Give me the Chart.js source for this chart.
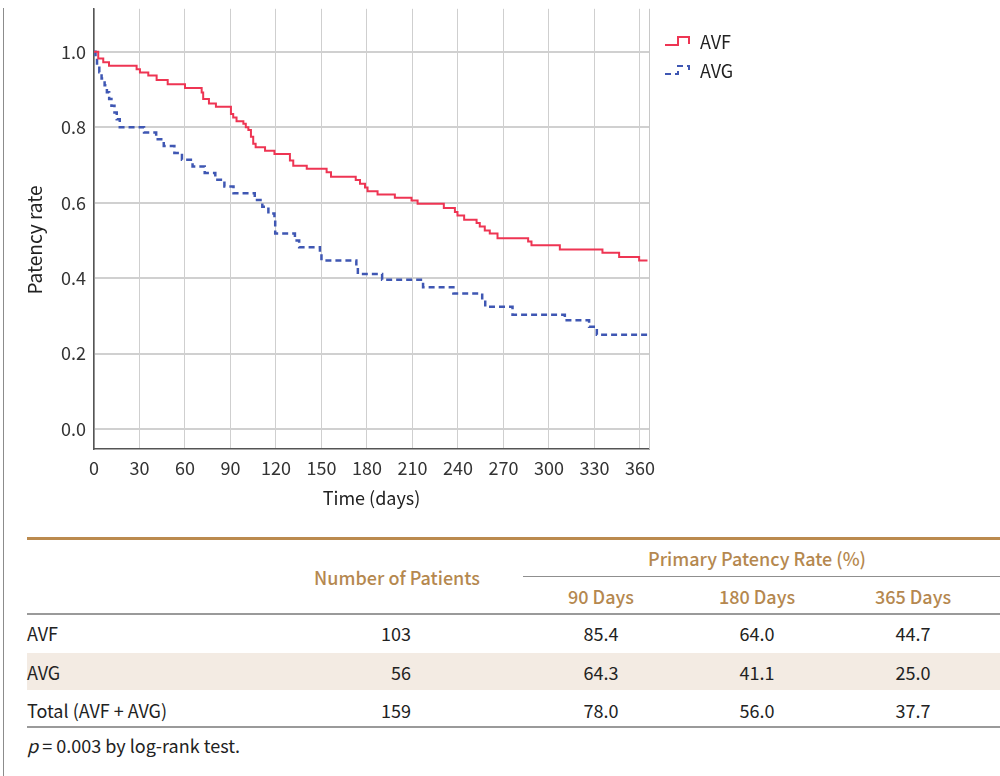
<!DOCTYPE html>
<html>
<head>
<meta charset="utf-8">
<script src="https://cdn.jsdelivr.net/npm/chart.js@4.4.0/dist/chart.umd.min.js"></script>
<style>
  body { margin: 0; background: #fff; font-family: "Noto Sans CJK KR", "Noto Sans", sans-serif; color: #222; }
  #wrap { position: relative; width: 1000px; height: 776px; overflow: hidden; }
  #frame { position: absolute; left: 3px; top: 8px; width: 10px; height: 800px; border-left: 1px solid #8c8c8c; }
  #chartBox { position: absolute; left: 0; top: -10px; width: 1000px; height: 530px; }
  .t { position: absolute; font-size: 18px; white-space: nowrap; line-height: 1; }
  .c { transform: translate(-50%, -50%); }
  .l { transform: translate(0, -50%); }
  .r { transform: translate(-100%, -50%); }
  .hd { color: #b5884f; font-weight: 500; }
  .rule { position: absolute; }
</style>
</head>
<body>
<div id="wrap">
  <div id="frame"></div>
  <div id="chartBox"><canvas id="kmChart"></canvas></div>
  <div id="table"></div>
</div>
<script>
// Kaplan-Meier steps: day of each drop and the rate after it
const avfDays = [0, 2.8, 6.1, 9.9, 28.1, 30.3, 35.8, 41.3, 48.6, 60,
  71, 72, 75.8, 80.4, 90.3, 91.8, 94, 98.5, 100.1, 101.8,
  103.5, 105, 106.6, 112.8, 119, 129.2, 131.4, 140.3, 153.4, 156.3,
  172.6, 175.4, 178.7, 180.4, 187, 198.4, 209.4, 213.4, 230.7, 238,
  239.7, 244.1, 252.3, 254.4, 257.7, 261, 266.1, 286.3, 288.5, 307.2,
  335.3, 346.3, 359.5, 365];
const avfRate = [1, 0.982, 0.972, 0.963, 0.954, 0.945, 0.937, 0.925, 0.914, 0.904,
  0.892, 0.875, 0.863, 0.854, 0.835, 0.826, 0.816, 0.809, 0.800, 0.793,
  0.775, 0.756, 0.747, 0.738, 0.729, 0.712, 0.698, 0.690, 0.681, 0.669,
  0.660, 0.650, 0.640, 0.630, 0.622, 0.613, 0.606, 0.597, 0.586, 0.575,
  0.566, 0.555, 0.546, 0.537, 0.526, 0.518, 0.506, 0.497, 0.487, 0.476,
  0.467, 0.456, 0.447, 0.447];

const avgDays = [0, 1, 2, 3.5, 5, 7, 8.5, 10, 11.5, 13.5,
  15, 17, 33, 41, 46, 53, 58, 65, 73, 80,
  86, 92, 106, 111, 115, 119, 119.5, 132.5, 135.3, 149,
  150, 173, 174, 190, 217, 237, 256, 258, 276, 310.5,
  326.5, 331.6, 365];
const avgRate = [1, 0.982, 0.964, 0.946, 0.929, 0.911, 0.893, 0.875, 0.857, 0.839,
  0.821, 0.80, 0.786, 0.768, 0.750, 0.732, 0.714, 0.696, 0.679, 0.661,
  0.643, 0.625, 0.607, 0.589, 0.571, 0.554, 0.518, 0.500, 0.482, 0.465,
  0.447, 0.429, 0.411, 0.396, 0.376, 0.359, 0.341, 0.324, 0.303, 0.288,
  0.271, 0.250, 0.250];

const xTicks = [0, 30, 60, 90, 120, 150, 180, 210, 240, 270, 300, 330, 360];
const yTicks = [0, 0.2, 0.4, 0.6, 0.8, 1.0];

// table below the chart
const groups = ['AVF', 'AVG', 'Total (AVF + AVG)'];
const patients = ['103', '56', '159'];
const rate90 = ['85.4', '64.3', '78.0'];
const rate180 = ['64.0', '41.1', '56.0'];
const rate365 = ['44.7', '25.0', '37.7'];

const FONT = '"Noto Sans CJK KR", "Noto Sans", sans-serif';

function pts(days, rate) {
  return days.map((d, i) => ({ x: d, y: rate[i] }));
}

// step-shaped legend like the original figure, the y title and the right edge of the plot
const stepLegend = {
  id: 'stepLegend',
  afterDraw(chart) {
    const ctx = chart.ctx;
    const a = chart.chartArea;
    ctx.save();
    ctx.strokeStyle = '#c8c8c8';
    ctx.lineWidth = 1;
    ctx.beginPath();
    ctx.moveTo(a.right + 0.5, a.top);
    ctx.lineTo(a.right + 0.5, a.bottom);
    ctx.stroke();

    // y axis title, a little below the middle as in the original
    ctx.save();
    ctx.translate(35, 250);
    ctx.rotate(-Math.PI / 2);
    ctx.fillStyle = '#222';
    ctx.font = '19px ' + FONT;
    ctx.textAlign = 'center';
    ctx.textBaseline = 'middle';
    ctx.fillText('Patency rate', 0, 0);
    ctx.restore();

    const x0 = a.right + 16;
    chart.data.datasets.forEach((ds, i) => {
      const yc = 52 + i * 29;
      ctx.strokeStyle = ds.borderColor;
      ctx.lineWidth = 2;
      ctx.setLineDash(ds.borderDash || []);
      ctx.beginPath();
      ctx.moveTo(x0, yc + 3);
      ctx.lineTo(x0 + 13, yc + 3);
      ctx.lineTo(x0 + 13, yc - 5);
      ctx.lineTo(x0 + 24, yc - 5);
      ctx.lineTo(x0 + 24, yc + 2);
      ctx.stroke();
      ctx.setLineDash([]);
      ctx.fillStyle = '#222';
      ctx.font = '18px ' + FONT;
      ctx.textBaseline = 'middle';
      ctx.fillText(ds.label, x0 + 35, yc);
    });
    ctx.restore();
  }
};

const ctx = document.getElementById('kmChart').getContext('2d');
new Chart(ctx, {
  type: 'line',
  data: {
    datasets: [
      {
        label: 'AVF',
        data: pts(avfDays, avfRate),
        borderColor: '#ee3553',
        borderWidth: 2,
        stepped: true,
        pointRadius: 0,
        fill: false
      },
      {
        label: 'AVG',
        data: pts(avgDays, avgRate),
        borderColor: '#3f57b3',
        borderWidth: 2.5,
        borderDash: [6, 4],
        stepped: true,
        pointRadius: 0,
        fill: false
      }
    ]
  },
  options: {
    responsive: true,
    maintainAspectRatio: false,
    animation: false,
    layout: { padding: { top: 8, right: 351, left: 0, bottom: 0 } },
    plugins: { legend: { display: false }, tooltip: { enabled: false } },
    scales: {
      x: {
        type: 'linear',
        min: 0,
        max: 366,
        afterBuildTicks: s => { s.ticks = xTicks.map(v => ({ value: v })); },
        afterFit: s => { s.height = 71; },
        grid: { color: '#cfcfcf', lineWidth: 1, drawTicks: false },
        border: { color: '#555', width: 1.5 },
        ticks: { color: '#333', font: { family: FONT, size: 18 }, padding: 8, maxRotation: 0 },
        title: { display: true, text: 'Time (days)', color: '#222', font: { family: FONT, size: 18 }, padding: { top: 0, bottom: 11 } }
      },
      y: {
        min: -0.053,
        max: 1.114,
        afterBuildTicks: s => { s.ticks = yTicks.map(v => ({ value: v })); },
        afterFit: s => { s.width = 94; },
        grid: { color: '#d0d0d0', lineWidth: 2, drawTicks: false },
        border: { color: '#555', width: 1.5 },
        ticks: { color: '#333', font: { family: FONT, size: 18 }, padding: 8, callback: v => v.toFixed(1) }
      }
    }
  },
  plugins: [stepLegend]
});

// --- TABLE ---
const table = document.getElementById('table');
function txt(s, x, y, cls) {
  const d = document.createElement('div');
  d.className = 't ' + cls;
  d.style.left = x + 'px';
  d.style.top = y + 'px';
  d.innerHTML = s;
  table.appendChild(d);
}
function rule(x, y, w, h, color) {
  const d = document.createElement('div');
  d.className = 'rule';
  d.style.cssText = `left:${x}px;top:${y}px;width:${w}px;height:${h}px;background:${color}`;
  table.appendChild(d);
}

rule(27, 653, 973, 37, '#f3ebe3');
rule(27, 537, 973, 3, '#bb8a4e');
rule(523, 576, 477, 1, '#8f8f8f');
rule(27, 613, 973, 1.5, '#9a9a9a');
rule(27, 726, 973, 1.5, '#9a9a9a');

txt('Primary Patency Rate (%)', 757, 558, 'c hd');
txt('Number of Patients', 397, 577, 'c hd');
txt('90 Days', 601, 596, 'c hd');
txt('180 Days', 757, 596, 'c hd');
txt('365 Days', 913, 596, 'c hd');

const rowY = [633, 672, 710];
groups.forEach((g, i) => {
  txt(g, 27, rowY[i], 'l');
  txt(patients[i], 411, rowY[i], 'r');
  txt(rate90[i], 601, rowY[i], 'c');
  txt(rate180[i], 757, rowY[i], 'c');
  txt(rate365[i], 913, rowY[i], 'c');
});
txt('<i>p</i> = 0.003 by log-rank test.', 27, 745, 'l');
</script>
</body>
</html>
